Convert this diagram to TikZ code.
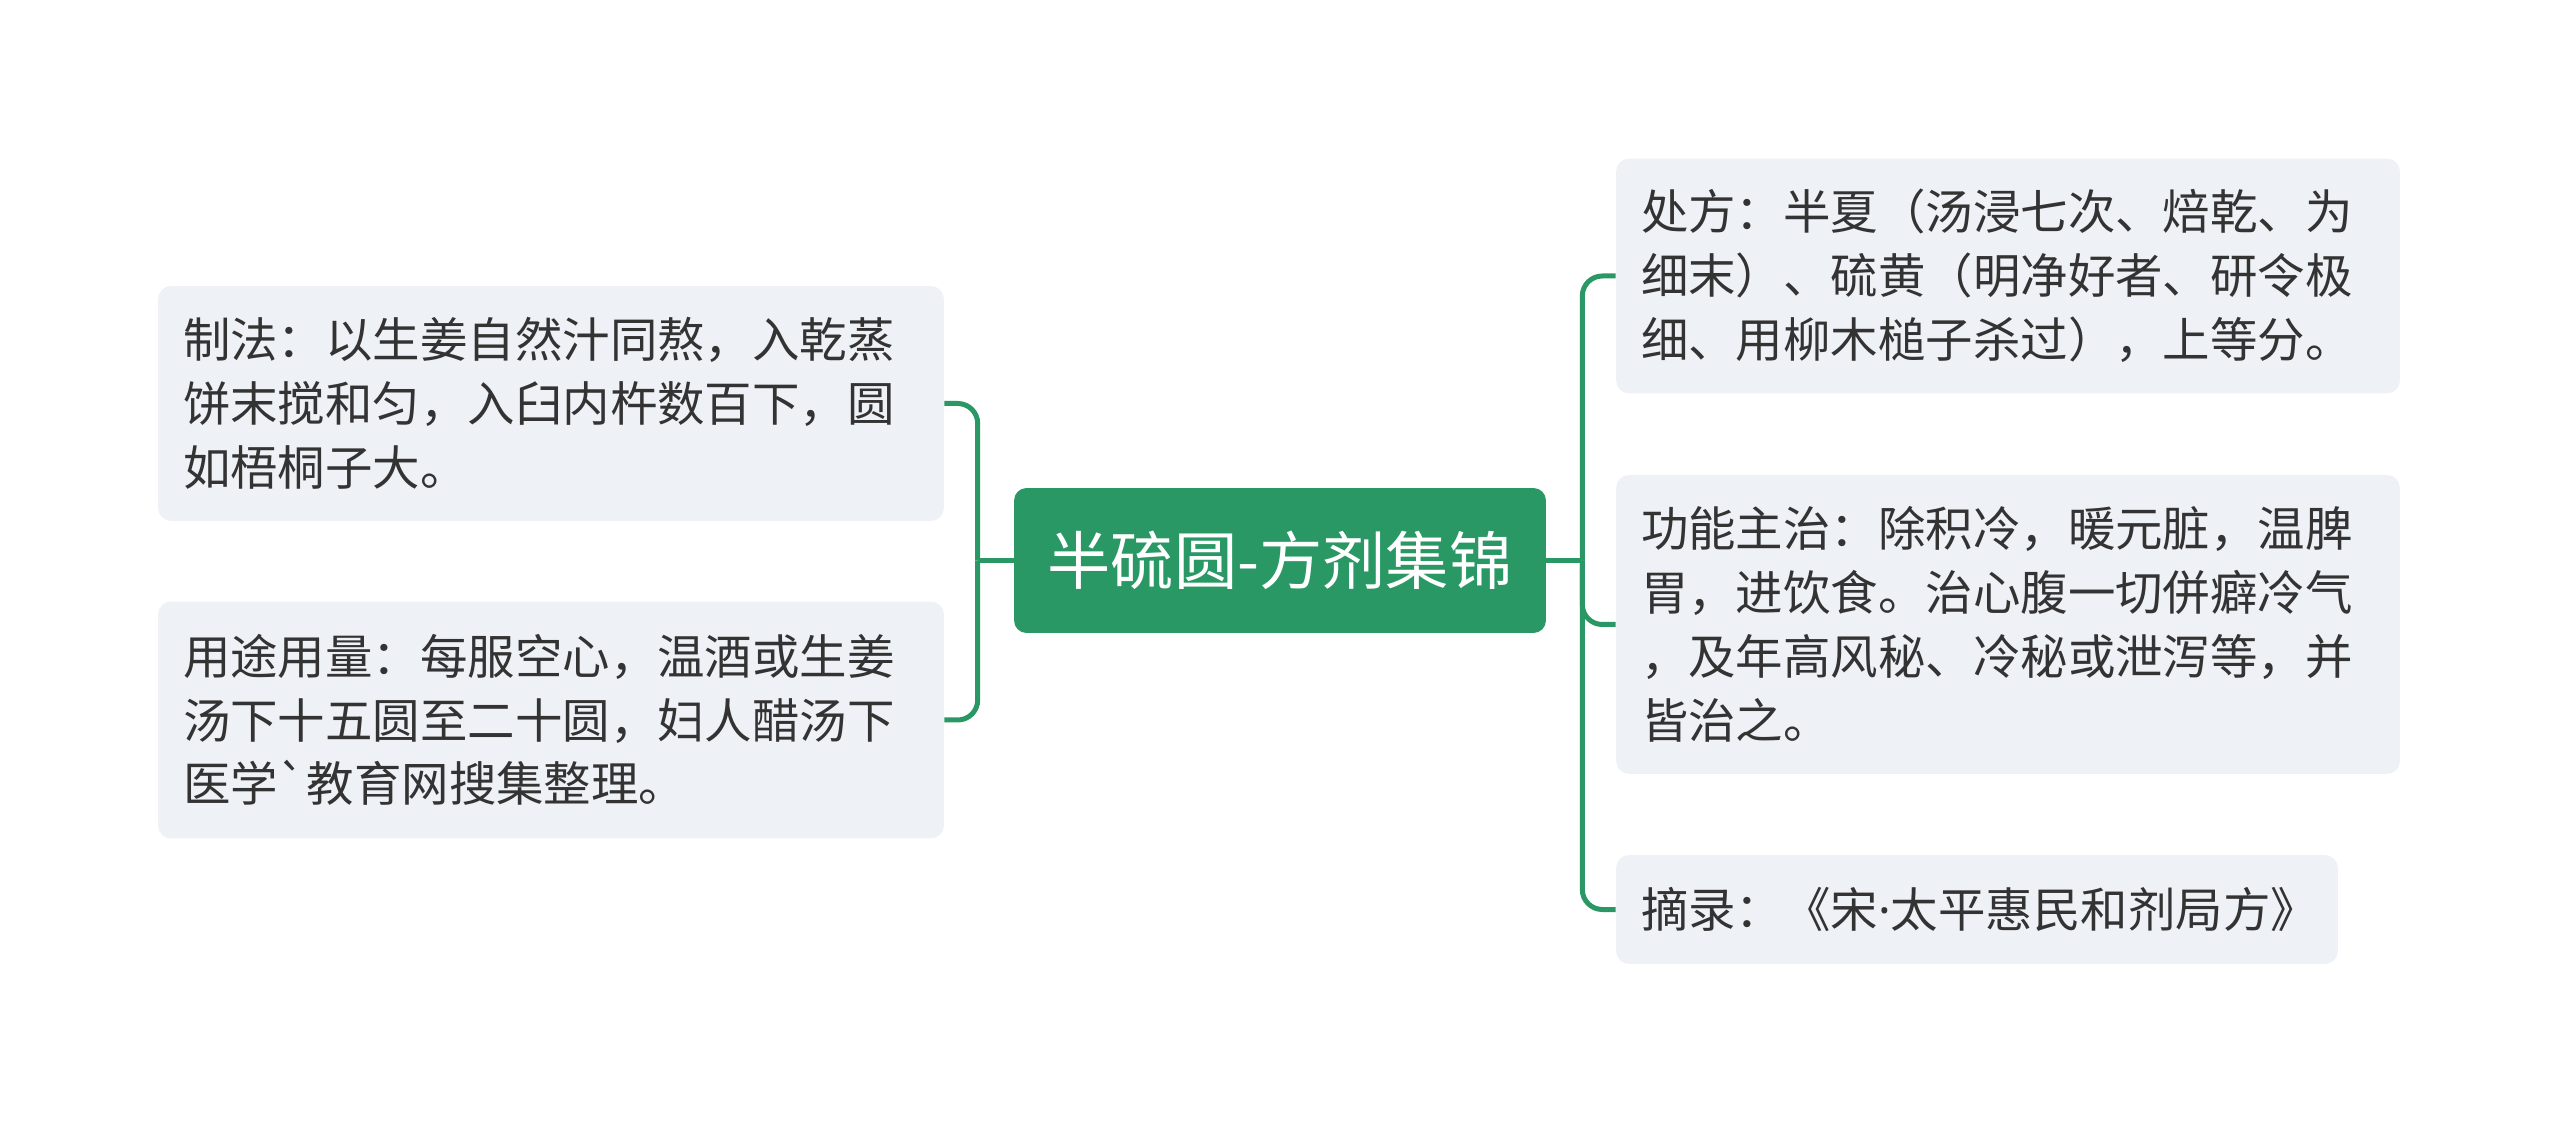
\documentclass[tikz,border=0pt]{standalone}
\usepackage{fontspec}
\setmainfont{Noto Sans CJK SC}[Ligatures=TeXOff]
\newfontfamily\latinfont{Noto Sans}
\usetikzlibrary{calc}
\definecolor{mapgreen}{RGB}{41,152,100}
\definecolor{leafgray}{RGB}{238,241,245}
\definecolor{inkgray}{RGB}{51,51,51}

\begin{document}
\begin{tikzpicture}[x=0.02cm, y=-0.02cm,
  leaf/.style={fill=leafgray, rounded corners=0.26cm, inner xsep=0.5cm, inner ysep=0pt,
    align=left, text=inkgray, font=\fontsize{27pt}{36.3pt}\selectfont},
  link/.style={draw=mapgreen, line width=0.1cm, rounded corners=0.4cm}]
\useasboundingbox (0,0) rectangle (2560,1124);

\node[fill=mapgreen, rounded corners=0.25cm, minimum width=10.64cm, minimum height=2.9cm, text=white, font=\fontsize{36pt}{40pt}\selectfont] (M) at (1280,560.5) {半硫圆-方剂集锦};

\node[leaf, text width=14.72cm, minimum height=4.7cm] (L1) at (551,403.5) {制法：以生姜自然汁同熬，入乾蒸\\饼末搅和匀，入臼内杵数百下，圆\\如梧桐子大。};
\node[leaf, text width=14.72cm, minimum height=4.74cm] (L2) at (551,720) {用途用量：每服空心，温酒或生姜\\汤下十五圆至二十圆，妇人醋汤下\\医学`教育网搜集整理。};

\node[leaf, text width=14.68cm, minimum height=4.7cm] (R1) at (2008,276) {处方：半夏（汤浸七次、焙乾、为\\细末）、硫黄（明净好者、研令极\\细、用柳木槌子杀过），上等分。};
\node[leaf, text width=14.68cm, minimum height=5.98cm] (R2) at (2008,624.5) {功能主治：除积冷，暖元脏，温脾\\胃，进饮食。治心腹一切併癖冷气\\，及年高风秘、冷秘或泄泻等，并\\皆治之。};
\node[leaf, text width=13.44cm, minimum height=2.18cm] (R3) at (1977,909.5) {摘录：《宋{\latinfont ·}太平惠民和剂局方》};

\coordinate (lfork) at ($(M.west)+(-36,0)$);
\coordinate (rfork) at ($(M.east)+(36,0)$);

\draw[link] (M.west) -- (lfork);
\draw[link] (lfork) |- (L1.east);
\draw[link] (lfork) |- (L2.east);

\draw[link] (M.east) -- (rfork);
\draw[link] (rfork) |- (R1.west);
\draw[link] (rfork) |- (R2.west);
\draw[link] (rfork) |- (R3.west);
\end{tikzpicture}
\end{document}
